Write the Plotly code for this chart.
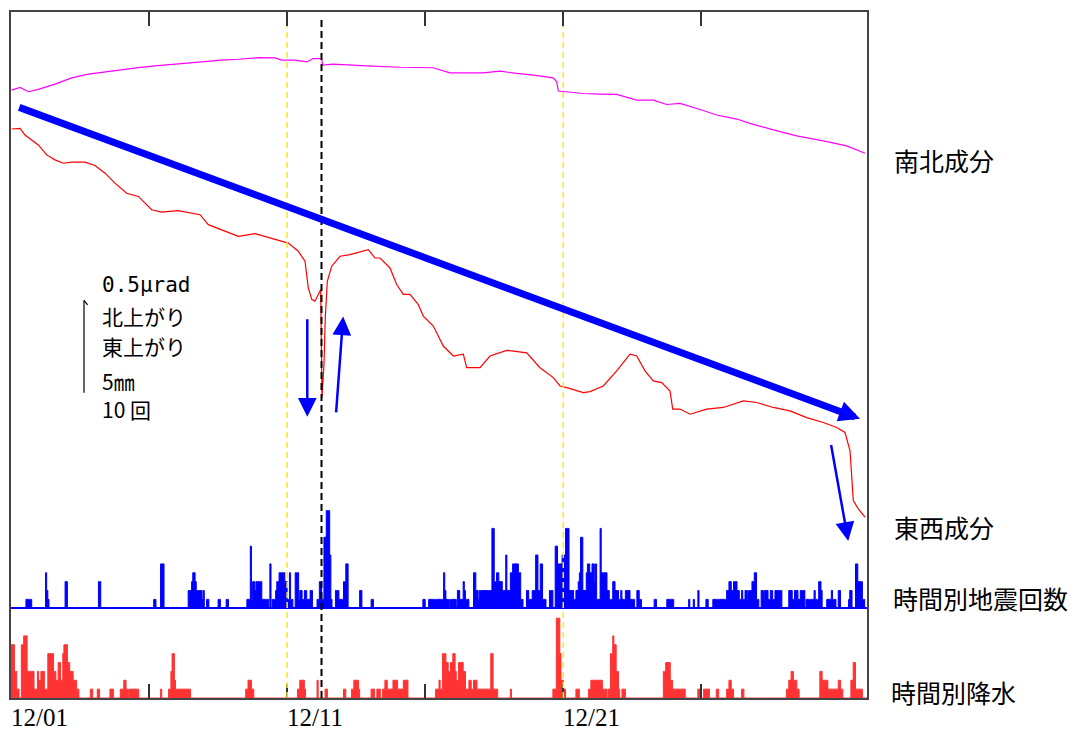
import numpy as np
import plotly.graph_objects as go

# ---------------- data ----------------
N_HOURS = 744  # Dec 1 00:00 .. Jan 1 00:00, hourly

# South-North tilt component (days from 12/01 00:00, micro-radian, arbitrary offset)
ns_day = [0.025, 0.326, 0.627, 0.989, 1.593, 2.198, 2.799, 3.404, 4.009, 4.610, 5.215, 5.820,
          6.421, 7.026, 7.631, 8.232, 8.956, 9.561, 9.803, 10.285, 10.720, 10.937, 11.245,
          11.288, 11.661, 12.882, 14.088, 15.283, 15.898, 17.093, 17.709, 18.314, 18.915,
          19.639, 19.762, 19.820, 20.125, 20.726, 21.331, 21.935, 22.660, 23.261, 23.746,
          24.228, 24.952, 25.557, 26.281, 26.763, 27.607, 28.454, 29.418, 30.265, 30.927]
ns_val = [3.425, 3.440, 3.416, 3.429, 3.459, 3.494, 3.515, 3.528, 3.541, 3.552, 3.562, 3.571,
          3.580, 3.588, 3.594, 3.599, 3.608, 3.607, 3.594, 3.594, 3.584, 3.603, 3.603,
          3.566, 3.571, 3.562, 3.554, 3.551, 3.522, 3.522, 3.532, 3.519, 3.510,
          3.494, 3.472, 3.420, 3.416, 3.406, 3.403, 3.401, 3.369, 3.369, 3.344,
          3.350, 3.316, 3.285, 3.262, 3.238, 3.201, 3.167, 3.139, 3.111, 3.069]

# East-West tilt component
ew_day = [0.025, 0.326, 0.507, 0.750, 0.989, 1.293, 1.593, 1.894, 2.198, 2.680, 3.042, 3.404,
          3.766, 4.190, 4.610, 5.095, 5.458, 6.059, 6.544, 6.845, 7.145, 7.631, 8.232, 8.836,
          9.199, 9.680, 10.042, 10.404, 10.647, 10.767, 10.890, 11.009, 11.129, 11.216,
          11.263, 11.335, 11.382, 11.455, 11.614, 11.915, 12.277, 12.639, 12.940, 13.182,
          13.363, 13.725, 13.968, 14.207, 14.450, 14.750, 14.932, 15.294, 15.656, 16.018,
          16.380, 16.503, 16.985, 17.347, 17.952, 18.676, 19.158, 19.639, 19.882, 20.125,
          20.726, 20.969, 21.450, 21.935, 22.417, 22.660, 22.960, 23.261, 23.565, 23.866,
          23.964, 24.228, 24.590, 25.195, 25.796, 26.520, 27.005, 27.607, 28.211, 28.816,
          29.418, 29.903, 30.204, 30.385, 30.504, 30.685, 30.927]
ew_val = [3.206, 3.210, 3.172, 3.144, 3.116, 3.060, 3.032, 3.013, 3.019, 3.019, 3.000, 2.957,
          2.901, 2.844, 2.826, 2.751, 2.738, 2.746, 2.732, 2.723, 2.667, 2.639, 2.601, 2.616,
          2.601, 2.579, 2.563, 2.517, 2.461, 2.311, 2.246, 2.236, 2.274, 2.302,
          1.693, 1.880, 2.142, 2.348, 2.433, 2.489, 2.498, 2.513, 2.526, 2.479,
          2.479, 2.423, 2.330, 2.274, 2.274, 2.217, 2.152, 2.096, 1.983, 1.927,
          1.937, 1.861, 1.861, 1.927, 1.959, 1.945, 1.861, 1.805, 1.758, 1.749,
          1.721, 1.726, 1.758, 1.843, 1.937, 1.927, 1.843, 1.787, 1.777, 1.730,
          1.628, 1.628, 1.599, 1.628, 1.637, 1.674, 1.665, 1.637, 1.618, 1.580,
          1.552, 1.524, 1.496, 1.393, 1.112, 1.066, 1.019]

# Hourly earthquake counts: (first hour, end hour exclusive, count)
quake_runs = [
    (13, 18, 1), (30, 31, 4), (31, 32, 2), (32, 33, 1), (47, 49, 3), (76, 78, 3),
    (124, 126, 1), (130, 133, 5), (154, 157, 2), (157, 158, 3), (158, 160, 4), (160, 161, 3),
    (161, 166, 2), (166, 167, 1), (167, 168, 2), (170, 172, 1), (180, 182, 1), (187, 189, 1),
    (205, 208, 1), (208, 209, 7), (209, 210, 1), (210, 212, 3), (212, 213, 2), (213, 218, 3),
    (218, 224, 1), (225, 226, 5), (227, 230, 1), (230, 231, 2), (231, 233, 3), (233, 238, 4),
    (238, 240, 3), (240, 242, 1), (242, 243, 4), (243, 245, 1), (247, 250, 4), (250, 251, 1),
    (251, 253, 2), (253, 255, 1), (255, 257, 2), (257, 260, 1), (260, 262, 2), (266, 268, 1),
    (268, 270, 3), (270, 272, 1), (272, 274, 8), (274, 277, 11), (277, 278, 6), (278, 279, 1),
    (282, 285, 2), (285, 289, 1), (289, 291, 3), (291, 293, 5), (303, 305, 2), (313, 315, 1),
    (358, 360, 1), (363, 376, 1), (376, 377, 4), (377, 378, 2), (378, 381, 1), (382, 387, 1),
    (388, 390, 2), (390, 393, 1), (393, 394, 3), (394, 395, 2), (395, 398, 1), (402, 404, 4),
    (404, 406, 2), (406, 407, 1), (407, 418, 2), (418, 420, 9), (420, 422, 3), (422, 424, 4),
    (424, 427, 3), (427, 430, 2), (430, 431, 6), (431, 434, 2), (434, 436, 4), (436, 441, 5),
    (441, 443, 4), (443, 445, 1), (448, 450, 2), (450, 453, 1), (453, 456, 2), (456, 458, 6),
    (458, 460, 2), (460, 462, 5), (462, 465, 1), (468, 471, 2), (473, 475, 7), (475, 479, 5),
    (479, 482, 6), (482, 485, 9), (485, 489, 2), (489, 491, 1), (491, 493, 2), (493, 494, 3),
    (494, 495, 4), (495, 497, 8), (497, 500, 2), (500, 501, 4), (501, 503, 5), (503, 505, 4),
    (505, 507, 5), (507, 508, 3), (508, 509, 5), (509, 512, 1), (512, 513, 9), (513, 518, 4),
    (518, 520, 2), (520, 523, 1), (523, 525, 3), (525, 528, 2), (528, 530, 1), (530, 531, 2),
    (531, 534, 1), (534, 538, 2), (538, 542, 1), (544, 546, 2), (546, 548, 1), (559, 561, 1),
    (570, 576, 1), (589, 590, 1), (593, 594, 1), (597, 598, 2), (604, 606, 1), (610, 622, 1),
    (622, 624, 2), (624, 626, 3), (626, 628, 2), (628, 631, 3), (631, 633, 2), (633, 635, 1),
    (635, 636, 2), (636, 638, 1), (638, 640, 2), (640, 641, 1), (641, 644, 2), (644, 646, 3),
    (646, 648, 4), (648, 650, 1), (652, 654, 2), (654, 655, 1), (655, 658, 2), (658, 660, 1),
    (660, 662, 2), (662, 664, 1), (664, 670, 2), (676, 679, 2), (679, 681, 1), (681, 684, 2),
    (684, 686, 1), (686, 690, 2), (691, 698, 1), (698, 699, 2), (699, 702, 1), (702, 704, 3),
    (704, 705, 2), (709, 713, 1), (713, 714, 2), (714, 717, 1), (719, 721, 2), (728, 729, 1),
    (729, 731, 2), (734, 736, 5), (736, 740, 3), (740, 742, 1),
]

# Hourly precipitation (mm): (first hour, end hour exclusive, mm)
rain_runs = [
    (0, 3, 3.0), (3, 5, 1.5), (5, 7, 0.5), (9, 11, 3.0), (11, 14, 3.5), (14, 20, 1.5),
    (20, 23, 0.5), (23, 24, 1.5), (24, 26, 1.0), (26, 29, 1.5), (29, 32, 0.5), (32, 37, 2.5),
    (37, 39, 1.5), (39, 41, 1.0), (41, 43, 2.0), (43, 45, 1.0), (45, 46, 2.5), (46, 49, 3.0),
    (49, 51, 2.0), (51, 54, 1.5), (54, 57, 1.0), (57, 59, 0.5), (69, 71, 0.5), (75, 77, 0.5),
    (86, 89, 0.5), (95, 98, 0.5), (98, 100, 1.0), (100, 102, 0.5), (103, 111, 0.5),
    (130, 131, 0.5), (137, 139, 0.5), (139, 140, 1.5), (140, 142, 2.5), (142, 143, 1.0),
    (143, 156, 0.5), (204, 206, 0.5), (206, 209, 1.0), (209, 211, 0.5),
    (249, 251, 0.5), (251, 255, 1.0), (255, 256, 0.5), (266, 267, 1.0), (273, 275, 0.5),
    (289, 291, 0.5), (296, 298, 0.5), (298, 302, 1.0), (302, 303, 0.5), (313, 316, 0.5),
    (318, 321, 0.5), (323, 325, 0.5), (325, 327, 1.0), (327, 332, 0.5), (332, 336, 1.0),
    (336, 341, 0.5), (341, 345, 1.0), (369, 372, 0.5), (372, 373, 1.0), (373, 375, 0.5),
    (375, 378, 2.5), (378, 380, 2.0), (380, 382, 1.5), (382, 384, 2.0), (384, 386, 2.5),
    (386, 387, 1.5), (387, 389, 1.0), (389, 393, 2.0), (393, 395, 1.5), (395, 398, 0.5),
    (398, 400, 1.0), (400, 402, 0.5), (402, 405, 1.0), (405, 417, 0.5), (417, 419, 2.5),
    (419, 423, 0.5), (434, 435, 0.5), (471, 474, 0.5), (474, 477, 4.5), (477, 478, 2.5),
    (478, 480, 1.0), (480, 482, 0.5), (491, 494, 0.5), (502, 504, 0.5), (504, 514, 1.0),
    (514, 518, 0.5), (519, 521, 0.5), (521, 523, 2.5), (523, 524, 3.5), (524, 526, 3.0),
    (526, 528, 1.5), (528, 529, 0.5), (531, 534, 0.5), (567, 569, 1.5), (569, 573, 2.0),
    (573, 575, 1.0), (575, 586, 0.5), (597, 599, 0.5), (602, 607, 0.5), (613, 615, 0.5),
    (622, 624, 0.5), (624, 626, 1.0), (626, 628, 0.5), (635, 637, 0.5), (674, 676, 0.5),
    (676, 678, 1.0), (678, 680, 1.5), (680, 683, 1.0), (683, 685, 0.5), (703, 705, 1.5),
    (705, 710, 1.0), (710, 719, 0.5), (719, 721, 1.0), (721, 723, 0.5), (730, 732, 1.0),
    (732, 734, 2.0), (734, 740, 0.5),
]

tick_days = [5, 10, 15, 20, 25]
label_days = [0, 10, 20]
label_text = ["12/01", "12/11", "12/21"]
yellow_days = [10, 20]
event_day = 11.245  # black dashed line

# ---------------- geometry / scales ----------------
PLOT_L, PLOT_T, PLOT_W, PLOT_H = 11, 10, 856, 688
SCALE_PX = 89.0                       # scale bar: 0.5 urad = 5 mm = 10 counts
TILT_PX = SCALE_PX / 0.5              # px per urad
QUAKE_PX = SCALE_PX / 10              # px per count
RAIN_PX = SCALE_PX / 5                # px per mm
QUAKE_BASE_PX = 90                    # quake baseline above bottom of plot


def hourly(runs):
    a = np.zeros(N_HOURS)
    for s, e, v in runs:
        a[s:e] = v
    return a


def px_x(px):
    return (px - PLOT_L) / PLOT_W


def px_y(py):
    return (PLOT_T + PLOT_H - py) / PLOT_H


quake = hourly(quake_runs)
rain = hourly(rain_runs)
hx = np.arange(N_HOURS + 1) / 24.0

fig = go.Figure()

fig.add_trace(go.Scatter(x=hx, y=np.append(rain, rain[-1]), yaxis="y3", mode="lines",
                         line=dict(color="#ff3333", width=1, shape="hv"),
                         fill="tozeroy", fillcolor="#ff3333", hoverinfo="skip"))
fig.add_trace(go.Scatter(x=hx, y=np.append(quake, quake[-1]), yaxis="y2", mode="lines",
                         line=dict(color="#0000ff", width=1, shape="hv"),
                         fill="tozeroy", fillcolor="#0000ff", hoverinfo="skip"))
fig.add_trace(go.Scatter(x=ns_day, y=ns_val, mode="lines",
                         line=dict(color="#ff00ff", width=1.2)))
fig.add_trace(go.Scatter(x=ew_day, y=ew_val, mode="lines",
                         line=dict(color="#ff0000", width=1.2)))

shapes = []
for d in yellow_days:
    shapes.append(dict(type="line", xref="x", yref="paper", x0=d, x1=d, y0=0, y1=px_y(24),
                       line=dict(color="#ffee00", width=1.5, dash="6px,4px"), layer="above"))
shapes.append(dict(type="line", xref="x", yref="paper", x0=event_day, x1=event_day,
                   y0=0, y1=px_y(16),
                   line=dict(color="#000000", width=2, dash="7px,4px"), layer="above"))
# scale bar (0.5 urad / 5mm / 10 counts)
sb_x = 2.644
sb_lo = 1.72
shapes.append(dict(type="line", xref="x", yref="y", x0=sb_x, x1=sb_x, y0=sb_lo, y1=sb_lo + 0.52,
                   line=dict(color="#000000", width=1.2)))
shapes.append(dict(type="line", xref="x", yref="y", x0=sb_x, x1=sb_x + 0.13,
                   y0=sb_lo + 0.52, y1=sb_lo + 0.495, line=dict(color="#000000", width=1.2)))

annotations = []
# arrows (tail -> head), in (day, urad)
arrows = [
    ((0.243, 3.331), (30.747, 1.573), 7, 0.6),
    ((10.73, 2.142), (10.73, 1.585), 2.5, 1.5),
    ((11.77, 1.601), (12.03, 2.150), 2.5, 1.5),
    ((29.69, 1.434), (30.32, 0.885), 2.5, 1.5),
]
for (tx, ty), (hx_, hy_), w, s in arrows:
    annotations.append(dict(x=hx_, y=hy_, ax=tx, ay=ty, xref="x", yref="y", axref="x", ayref="y",
                            text="", showarrow=True, arrowhead=2, arrowsize=s, arrowwidth=w,
                            arrowcolor="#0000ff", standoff=0, startstandoff=0))

# x tick labels (left aligned at tick)
for d, t in zip(label_days, label_text):
    annotations.append(dict(x=d, y=px_y(718), xref="x", yref="paper", text=t, showarrow=False,
                            xanchor="left", yanchor="middle", xshift=-2,
                            font=dict(family="Liberation Serif", size=25, color="#000")))

# right side labels
right_labels = [("南北成分", 892, 158), ("東西成分", 892, 527),
                ("時間別地震回数", 891, 598), ("時間別降水", 889, 692)]
for t, x, y in right_labels:
    annotations.append(dict(x=px_x(x), y=px_y(y), xref="paper", yref="paper", text=t,
                            showarrow=False, xanchor="left", yanchor="middle",
                            font=dict(family="Noto Sans CJK JP", size=25, color="#000")))

# scale legend texts
legend_labels = [("0.5μrad", 284, "DejaVu Sans Mono", 21), ("北上がり", 315, "Noto Sans CJK JP", 21),
                 ("東上がり", 345, "Noto Sans CJK JP", 21), ("5㎜", 380, "Noto Sans CJK JP", 21),
                 ("10 回", 408, "Noto Sans CJK JP", 21)]
for t, y, fam, sz in legend_labels:
    annotations.append(dict(x=px_x(100), y=px_y(y), xref="paper", yref="paper", text=t,
                            showarrow=False, xanchor="left", yanchor="middle",
                            font=dict(family=fam, size=sz, color="#000")))

fig.update_layout(
    width=1089, height=734,
    margin=dict(l=PLOT_L, r=1089 - PLOT_L - PLOT_W, t=PLOT_T, b=734 - PLOT_T - PLOT_H, pad=0),
    paper_bgcolor="white", plot_bgcolor="white", showlegend=False,
    xaxis=dict(range=[0, 31], tickmode="array", tickvals=tick_days, ticks="inside", ticklen=14,
               tickwidth=2, tickcolor="#333", showticklabels=False, showgrid=False,
               zeroline=False, showline=True, linecolor="#444", linewidth=2, mirror="ticks"),
    yaxis=dict(range=[0, PLOT_H / TILT_PX], showticklabels=False, ticks="", showgrid=False,
               zeroline=False, showline=True, linecolor="#444", linewidth=2, mirror=True),
    yaxis2=dict(range=[-QUAKE_BASE_PX / QUAKE_PX, (PLOT_H - QUAKE_BASE_PX) / QUAKE_PX],
                overlaying="y", showticklabels=False, ticks="", showgrid=False,
                zeroline=True, zerolinecolor="#0000ff", zerolinewidth=2, showline=False),
    yaxis3=dict(range=[0, PLOT_H / RAIN_PX], overlaying="y", showticklabels=False, ticks="",
                showgrid=False, zeroline=False, showline=False),
    shapes=shapes, annotations=annotations,
)

fig.write_html("out.html")
